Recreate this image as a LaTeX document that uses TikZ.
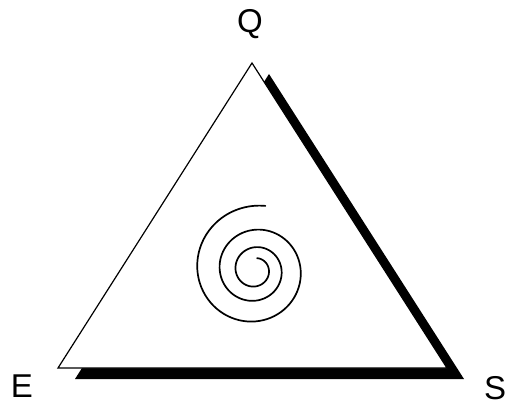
\documentclass[tikz,border=0pt]{standalone}
\usepackage{fontspec}
\setmainfont{Liberation Sans}
\begin{document}
\begin{tikzpicture}[x=1pt,y=-1pt,
  outline/.style={draw=black,line width=1.2pt,line join=miter},
  lbl/.style={font=\fontsize{33}{36}\selectfont,inner sep=0pt}]
\useasboundingbox (0,0) rectangle (505,406);
% shadow triangle
\fill[black] (269,74) -- (464,379) -- (75,379) -- cycle;
% main triangle
\filldraw[outline,fill=white] (252,63) -- (447,368) -- (58,368) -- cycle;
% spiral
\draw[line width=1.7pt,line cap=round] plot[domain=0:3,samples=240,smooth]
  ({255+(12+7.95*\x+3.238*\x*\x)*cos(360*\x-80)},
   {270+(12+7.95*\x+3.238*\x*\x)*sin(360*\x-80)});
% labels
\node[lbl] (Q) at (250,24) {Q};
\node[lbl] (E) at (22,386) {E};
\node[lbl] (S) at (495,388) {S};
\end{tikzpicture}
\end{document}
